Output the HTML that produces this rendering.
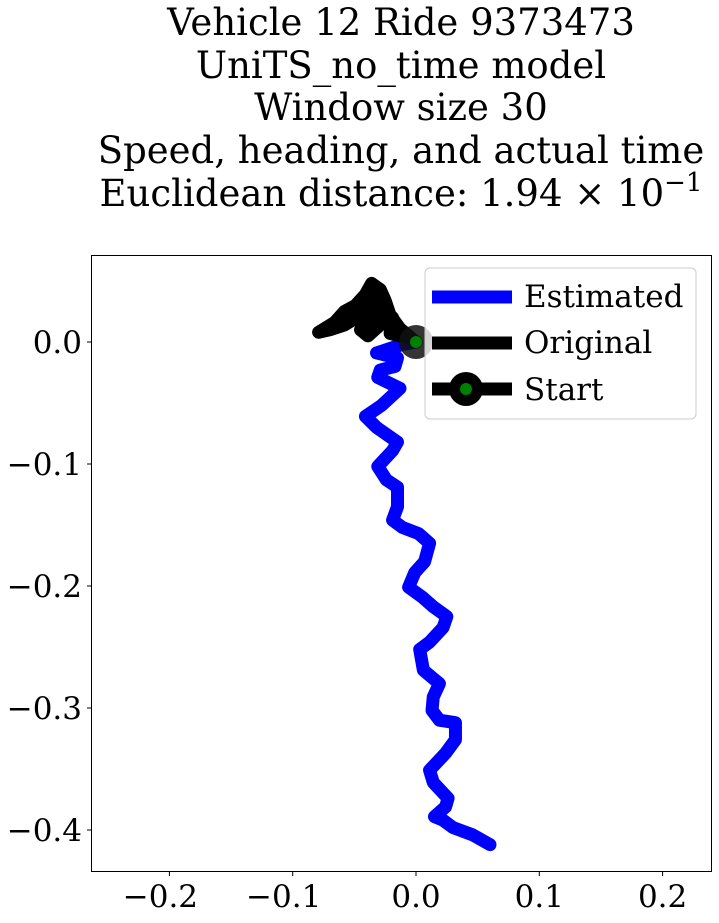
<!DOCTYPE html>
<html><head><meta charset="utf-8"><style>
body{margin:0;background:#fff;}
svg text{font-family:"DejaVu Serif","Liberation Serif",serif;fill:#000;}
</style></head><body>
<svg id="chart" width="719" height="918" xmlns="http://www.w3.org/2000/svg">
<g font-size="37" text-anchor="middle">
<text x="401" y="35">Vehicle 12 Ride 9373473</text>
<text x="401" y="78">UniTS_no_time model</text>
<text x="401" y="120">Window size 30</text>
<text x="401" y="163">Speed, heading, and actual time</text>
<text x="401" y="206">Euclidean distance: 1.94 × 10<tspan dy="-15" font-size="26">−1</tspan></text>
</g>
<g id="plot"></g>
<rect x="91.5" y="255.5" width="620" height="616" fill="none" stroke="#000" stroke-width="1"/>
<g id="ticks" font-size="31"></g>
<g>
<rect x="425" y="268" width="271" height="151" rx="5" fill="#fff" fill-opacity="0.8" stroke="#ccc"/>
<line x1="432" y1="297" x2="512" y2="297" stroke="#0000ff" stroke-width="13"/>
<text x="524" y="307" font-size="31">Estimated</text>
<line x1="432" y1="343" x2="512" y2="343" stroke="#000" stroke-width="13"/>
<text x="524" y="353" font-size="31">Original</text>
<line x1="432" y1="389" x2="512" y2="389" stroke="#000" stroke-width="13"/>
<circle cx="466" cy="389" r="17" fill="#000"/>
<circle cx="466" cy="389" r="6" fill="#008000"/>
<text x="524" y="400" font-size="31">Start</text>
</g>
</svg>
<script>
const estX=[0,-0.011,-0.032,-0.015,-0.017,-0.029,-0.031,-0.013,-0.028,-0.041,-0.032,-0.015,-0.019,-0.031,-0.024,-0.015,-0.015,-0.019,-0.011,0.002,0.011,0.007,-0.001,-0.006,0.005,0.014,0.025,0.022,0.011,0.003,0.006,0.019,0.014,0.013,0.019,0.032,0.032,0.024,0.011,0.014,0.026,0.024,0.015,0.022,0.030,0.046,0.060];
const estY=[0,-0.002,-0.009,-0.013,-0.020,-0.023,-0.029,-0.038,-0.052,-0.061,-0.070,-0.082,-0.089,-0.102,-0.113,-0.119,-0.135,-0.146,-0.152,-0.157,-0.165,-0.180,-0.189,-0.201,-0.209,-0.217,-0.225,-0.234,-0.246,-0.252,-0.269,-0.280,-0.291,-0.302,-0.310,-0.312,-0.326,-0.337,-0.351,-0.361,-0.374,-0.381,-0.389,-0.392,-0.398,-0.404,-0.412];
const origX=[0,-0.013,-0.021,-0.025,-0.029,-0.036,-0.041,-0.049,-0.058,-0.066,-0.079,-0.070,-0.058,-0.045,-0.039,-0.035,-0.031,-0.037,-0.045,-0.039,-0.029,-0.025,-0.019,-0.021,-0.013,-0.005];
const origY=[0,0.011,0.022,0.034,0.043,0.048,0.039,0.030,0.025,0.016,0.008,0.010,0.014,0.022,0.034,0.043,0.030,0.018,0.010,0.005,0.014,0.026,0.020,0.007,0.005,0.003];
const xTicks=[-0.2,-0.1,0.0,0.1,0.2];
const yTicks=[0.0,-0.1,-0.2,-0.3,-0.4];
const sx=v=>416+v*1233;
const sy=v=>342-v*1220;
const NS="http://www.w3.org/2000/svg";
const plot=document.getElementById('plot');
function path(xs,ys,color,name){
  const p=document.createElementNS(NS,'polyline');
  p.setAttribute('points',xs.map((x,i)=>sx(x)+','+sy(ys[i])).join(' '));
  p.setAttribute('fill','none');p.setAttribute('stroke',color);p.setAttribute('stroke-width','13');
  p.setAttribute('stroke-linejoin','round');p.setAttribute('stroke-linecap','round');
  
  
  plot.appendChild(p);
}
path(estX,estY,'#0000ff','estimated-path');
path(origX,origY,'#000','original-path');
const c=document.createElementNS(NS,'circle');
c.setAttribute('cx',sx(origX[0]));c.setAttribute('cy',sy(origY[0]));c.setAttribute('r','17');c.setAttribute('fill','#111');c.setAttribute('fill-opacity','0.85');


plot.appendChild(c);
const c2=document.createElementNS(NS,'circle');
c2.setAttribute('cx',sx(origX[0]));c2.setAttribute('cy',sy(origY[0]));c2.setAttribute('r','6');c2.setAttribute('fill','#008000');


plot.appendChild(c2);
const tg=document.getElementById('ticks');
const fmt=v=>(v<0?'−':'')+Math.abs(v).toFixed(1);
xTicks.forEach(v=>{
  const l=document.createElementNS(NS,'line');
  l.setAttribute('x1',sx(v));l.setAttribute('x2',sx(v));l.setAttribute('y1',871.5);l.setAttribute('y2',876);l.setAttribute('stroke','#000');
  
  
  tg.appendChild(l);
  const t=document.createElementNS(NS,'text');
  t.setAttribute('x',sx(v)-(v<0?9:0));t.setAttribute('y',907);t.setAttribute('text-anchor','middle');t.textContent=fmt(v);
  
  
  tg.appendChild(t);
});
yTicks.forEach(v=>{
  const l=document.createElementNS(NS,'line');
  l.setAttribute('x1',87);l.setAttribute('x2',91.5);l.setAttribute('y1',sy(v));l.setAttribute('y2',sy(v));l.setAttribute('stroke','#000');
  
  
  tg.appendChild(l);
  const t=document.createElementNS(NS,'text');
  t.setAttribute('x',82);t.setAttribute('y',sy(v)+11);t.setAttribute('text-anchor','end');t.textContent=fmt(v);
  
  
  tg.appendChild(t);
});
</script>
</body></html>
